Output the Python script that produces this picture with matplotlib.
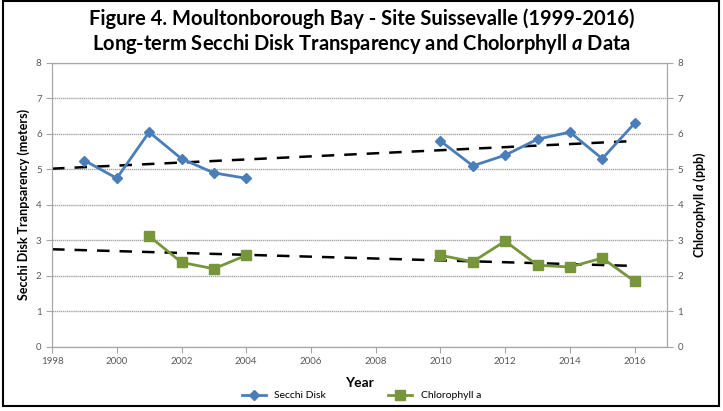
import numpy as np
import matplotlib.pyplot as plt
from matplotlib.patches import Rectangle

plt.rcParams['font.family'] = ['Lato', 'DejaVu Sans']
plt.rcParams['mathtext.fontset'] = 'custom'
plt.rcParams['mathtext.rm'] = 'Lato'
plt.rcParams['mathtext.it'] = 'Lato:italic'
plt.rcParams['mathtext.bf'] = 'Lato:bold'
plt.rcParams['mathtext.bfit'] = 'Lato:italic:bold'

# Secchi disk transparency (meters)
secchi_years = [1999, 2000, 2001, 2002, 2003, 2004, None,
                2010, 2011, 2012, 2013, 2014, 2015, 2016]
secchi_vals = [5.25, 4.75, 6.05, 5.3, 4.9, 4.75, None,
               5.8, 5.1, 5.4, 5.85, 6.05, 5.3, 6.3]

# Chlorophyll a (ppb)
chl_years = [2001, 2002, 2003, 2004, None,
             2010, 2011, 2012, 2013, 2014, 2015, 2016]
chl_vals = [3.12, 2.38, 2.2, 2.58, None,
            2.58, 2.4, 2.98, 2.3, 2.25, 2.5, 1.85]

# trend line ends
trend_years = [1998, 2016]
secchi_trend = [5.02, 5.8]
chl_trend = [2.75, 2.28]

xticks = list(range(1998, 2017, 2))

blue = '#4a7ebb'
green = '#77963c'
gridc = '#a6a6a6'

def to_arr(v):
    return np.array([np.nan if a is None else a for a in v], dtype=float)

fig = plt.figure(figsize=(7.23, 4.11), dpi=100)
ax = fig.add_axes([0.072, 0.156, 0.8505, 0.691])
ax2 = ax.twinx()

ax.plot(to_arr(secchi_years), to_arr(secchi_vals), color=blue, lw=2,
        marker='D', ms=5, label='Secchi Disk', zorder=3)
ax2.plot(to_arr(chl_years), to_arr(chl_vals), color=green, lw=2,
         marker='s', ms=7, label='Chlorophyll a', zorder=3)
ax.plot(trend_years, secchi_trend, color='black', lw=1.8, ls=(0, (5, 4)), zorder=2)
ax.plot(trend_years, chl_trend, color='black', lw=1.8, ls=(0, (5, 4)), zorder=2)

for a in (ax, ax2):
    a.set_ylim(0, 8)
    a.set_yticks(range(0, 9))
    a.tick_params(axis='y', labelsize=7, colors='#595959', length=4, color=gridc)
    for s in a.spines.values():
        s.set_color(gridc)
    a.set_xlim(1998, 2017)

ax.grid(axis='y', color=gridc, lw=1, ls=(0, (1, 0.5)))
ax.set_axisbelow(True)
ax.set_xticks(xticks)
ax.tick_params(axis='x', labelsize=7, colors='#595959', length=4, color=gridc)
ax.set_xlabel('Year', fontsize=10, fontweight='bold', labelpad=8)
ax.set_ylabel('Secchi Disk Tranpsarency (meters)', fontsize=9, fontweight='bold', labelpad=4)
ax2.set_ylabel('Chlorophyll $\\mathbfit{a}$ (ppb)', fontsize=9, fontweight='bold', labelpad=6)

fig.text(0.5, 0.955, 'Figure 4. Moultonborough Bay - Site Suissevalle (1999-2016)',
         ha='center', va='center', fontsize=14.5, fontweight='bold')
fig.text(0.5, 0.892, 'Long-term Secchi Disk Transparency and Cholorphyll $\\mathbfit{a}$ Data',
         ha='center', va='center', fontsize=14.5, fontweight='bold')

h1, l1 = ax.get_legend_handles_labels()
h2, l2 = ax2.get_legend_handles_labels()
fig.legend(h1 + h2, l1 + l2, loc='center', bbox_to_anchor=(0.5, 0.037), ncol=2,
           frameon=False, fontsize=7.5, columnspacing=6, handlelength=2.3)

fig.patches.append(Rectangle((0.004, 0.012), 0.99, 0.985, transform=fig.transFigure,
                             fill=False, edgecolor='black', lw=1.5))

plt.savefig('out.png', dpi=100)
